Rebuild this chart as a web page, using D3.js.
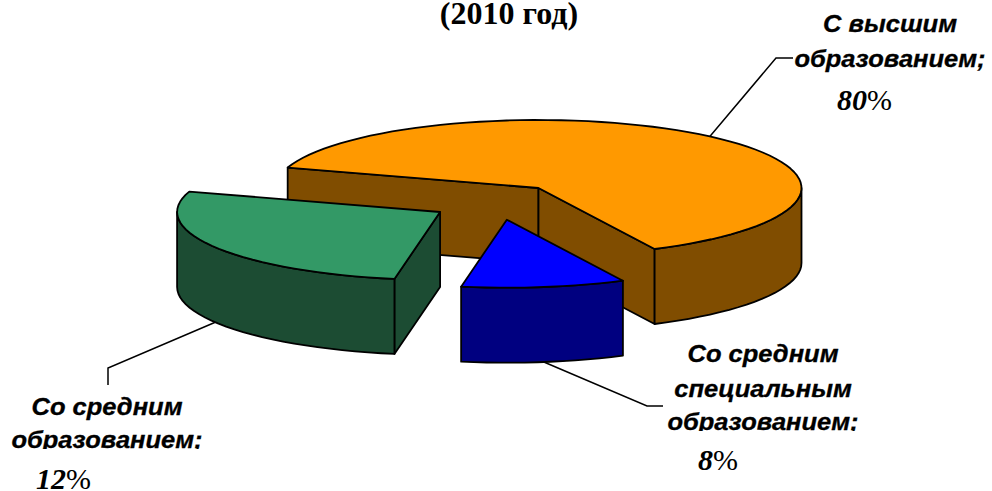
<!DOCTYPE html>
<html>
<head>
<meta charset="utf-8">
<script src="https://cdn.jsdelivr.net/npm/d3@7"></script>
<style>
  html, body { margin: 0; padding: 0; background: #fff; overflow: hidden; }
  svg { display: block; }
  .cat { font-family: "Liberation Sans", Arial, sans-serif; font-weight: bold; font-style: italic; font-size: 23px; fill: #000; stroke: #000; stroke-width: 0.3; text-anchor: middle; }
  .pct { font-family: "Liberation Serif", "Times New Roman", serif; font-size: 30px; fill: #000; }
  .pct .num { font-weight: bold; font-style: italic; }
  .title { font-family: "Liberation Serif", "Times New Roman", serif; font-weight: bold; font-size: 32px; fill: #000; text-anchor: middle; }
</style>
</head>
<body>
<div id="chart"></div>
<script>
// Values, in slice order (clockwise from the back left edge)
const categories = ['С высшим образованием', 'Со средним специальным образованием', 'Со средним образованием'];
const labelShares = [80, 8, 12];
// Angle each slice really takes up in the picture (its 3D view does not follow the labels)
const drawnSweep = [226.3, 36.2, 97.5];

const topColors = ['#FF9900', '#0000FF', '#339966'];
const sideColors = ['#804D00', '#000080', '#1C4C33'];
const offsetX = [0, -31.7, -98.4];
const offsetY = [0, 31.7, 24];
const drawOrder = [0, 2, 1];

const labelLines = [
  ['С высшим', 'образованием;'],
  ['Со средним', 'специальным', 'образованием;'],
  ['Со средним', 'образованием;']
];
const labelX = [890, 763, 107];
const labelBaselines = [[32, 67], [362, 397, 430], [415, 448]];
const labelClipBottom = [null, 431, 449];
const labelStretch = 1.11;
const pctX = [837, 698, 36];
const pctY = [110, 470, 489];
// Elbow and end of each leader line
const leaderElbowX = [776, 647, 108];
const leaderElbowY = [58, 406, 368];
const leaderEndX = [793, 663, 108];
const leaderEndY = [58, 406, 385];

const width = 992;
const height = 491;
const cx = 538.5, cy = 188, rx = 263, ry = 68, depth = 75;
const startDeg = -72.5;

const svg = d3.select('#chart').append('svg')
  .attr('width', width)
  .attr('height', height);

const xScale = d3.scaleLinear().domain([-1, 1]).range([cx - rx, cx + rx]);
const yScale = d3.scaleLinear().domain([-1, 1]).range([cy - ry, cy + ry]);

const rad = d => d * Math.PI / 180;
const pie = d3.pie().sort(null)
  .startAngle(rad(startDeg))
  .endAngle(rad(startDeg + 360));
const arcs = pie(drawnSweep);

// point on the rim of slice i, lowered by dz for the bottom face
function rim(i, t, dz = 0) {
  return [xScale(Math.sin(t)) + offsetX[i], yScale(-Math.cos(t)) + offsetY[i] + dz];
}
function apex(i, dz = 0) {
  return [xScale(0) + offsetX[i], yScale(0) + offsetY[i] + dz];
}
function arcPoints(i, a0, a1, dz = 0) {
  const n = Math.max(2, Math.ceil(Math.abs(a1 - a0) / rad(3)));
  return d3.range(n + 1).map(k => rim(i, a0 + (a1 - a0) * k / n, dz));
}

const line = d3.line();
const closed = d3.line().curve(d3.curveLinearClosed);

const pies = svg.append('g')
  .attr('stroke', '#000')
  .attr('stroke-width', 1.8)
  .attr('stroke-linejoin', 'round');

drawOrder.forEach(i => {
  const a = arcs[i];
  const g = pies.append('g');

  // flat cut faces, only the ones turned to the viewer
  if (Math.sin(a.startAngle) < 0) {
    g.append('path').attr('fill', sideColors[i])
      .attr('d', closed([apex(i), rim(i, a.startAngle), rim(i, a.startAngle, depth), apex(i, depth)]));
  }
  if (Math.sin(a.endAngle) > 0) {
    g.append('path').attr('fill', sideColors[i])
      .attr('d', closed([apex(i), rim(i, a.endAngle), rim(i, a.endAngle, depth), apex(i, depth)]));
  }

  // outer wall: the part of the rim on the near half of the ellipse
  const from = Math.max(a.startAngle, rad(90));
  const to = Math.min(a.endAngle, rad(270));
  if (to > from) {
    g.append('path').attr('fill', sideColors[i])
      .attr('d', closed(arcPoints(i, from, to).concat(arcPoints(i, to, from, depth))));
  }

  g.append('path').attr('fill', topColors[i])
    .attr('d', closed([apex(i)].concat(arcPoints(i, a.startAngle, a.endAngle))));
});

// Leader lines start from the middle of each slice's rim
const leaders = svg.append('g')
  .attr('fill', 'none')
  .attr('stroke', '#000')
  .attr('stroke-width', 1.5);

arcs.forEach((a, i) => {
  const mid = (a.startAngle + a.endAngle) / 2;
  const onFront = Math.cos(mid) < 0 && i !== 0;
  const start = rim(i, mid, onFront ? depth : 0);
  leaders.append('path')
    .attr('d', line([start, [leaderElbowX[i], leaderElbowY[i]], [leaderEndX[i], leaderEndY[i]]]));
});

svg.append('text')
  .attr('class', 'title')
  .attr('x', 509)
  .attr('y', 24)
  .text('(2010 год)');

const defs = svg.append('defs');

categories.forEach((name, i) => {
  const label = svg.append('g').attr('class', 'label').attr('aria-label', name);

  labelLines[i].forEach((txt, k) => {
    const row = label.append('g');
    const t = row.append('text')
      .attr('class', 'cat')
      .attr('transform', `translate(${labelX[i]},${labelBaselines[i][k]}) scale(${labelStretch},1)`)
      .text(txt);
    // last line of these two labels is cut off at the text box in the reference
    if (labelClipBottom[i] && k === labelLines[i].length - 1) {
      defs.append('clipPath').attr('id', `clip-${i}`)
        .append('rect')
        .attr('x', 0).attr('y', 0)
        .attr('width', width).attr('height', labelClipBottom[i]);
      row.attr('clip-path', `url(#clip-${i})`);
    }
  });

  const p = label.append('text')
    .attr('class', 'pct')
    .attr('x', pctX[i])
    .attr('y', pctY[i]);
  p.append('tspan').attr('class', 'num').text(labelShares[i]);
  p.append('tspan').text('%');
});
</script>
</body>
</html>
